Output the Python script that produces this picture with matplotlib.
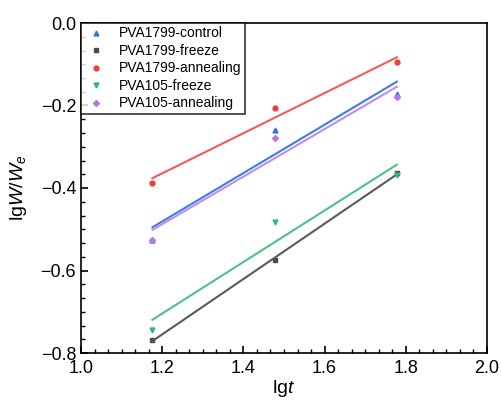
import numpy as np
import matplotlib
matplotlib.use("Agg")
import matplotlib.pyplot as plt
from matplotlib.ticker import MultipleLocator, AutoMinorLocator

plt.rcParams["font.family"] = ["Liberation Sans", "DejaVu Sans"]
plt.rcParams["mathtext.fontset"] = "custom"
plt.rcParams["mathtext.it"] = "Liberation Sans:italic"
plt.rcParams["mathtext.rm"] = "Liberation Sans"

# lg t for 15, 30 and 60 min
lg_t = [1.176, 1.477, 1.778]

series_names = [
    "PVA1799-control",
    "PVA1799-freeze",
    "PVA1799-annealing",
    "PVA105-freeze",
    "PVA105-annealing",
]
pva1799_control = [-0.525, -0.259, -0.172]
pva1799_freeze = [-0.768, -0.575, -0.364]
pva1799_annealing = [-0.388, -0.206, -0.095]
pva105_freeze = [-0.744, -0.482, -0.368]
pva105_annealing = [-0.526, -0.279, -0.179]

series_values = [
    pva1799_control,
    pva1799_freeze,
    pva1799_annealing,
    pva105_freeze,
    pva105_annealing,
]
colors = ["#2f74e0", "#4a4a4a", "#f23c3c", "#2fb872", "#b476ea"]
line_colors = ["#3d7de6", "#5a5a5a", "#f55a5a", "#4cc283", "#bf8cf0"]
markers = ["^", "s", "o", "v", "D"]
sizes = [3.5, 3, 3.5, 3.5, 3]

fig = plt.figure(figsize=(5.01, 4.07), dpi=100)
ax = fig.add_axes([81 / 501, 1 - 353 / 407, 406 / 501, 330 / 407])

x = np.array(lg_t)
for name, ys, c, lc, m, s in zip(series_names, series_values, colors, line_colors, markers, sizes):
    ys = np.array(ys)
    ax.plot(x, ys, linestyle="none", marker=m, color=c, markersize=s, label=name)
    k, b = np.polyfit(x, ys, 1)
    ax.plot(x[[0, -1]], k * x[[0, -1]] + b, color=lc, linewidth=1.5)

ax.set_xlim(1.0, 2.0)
ax.set_ylim(-0.8, 0.0)
ax.xaxis.set_major_locator(MultipleLocator(0.2))
ax.yaxis.set_major_locator(MultipleLocator(0.2))
ax.xaxis.set_minor_locator(AutoMinorLocator(6))
ax.yaxis.set_minor_locator(AutoMinorLocator(6))
ax.tick_params(which="both", direction="in", top=False, right=False, labelsize=13)
ax.tick_params(which="major", length=5, width=1.2)
ax.tick_params(which="minor", length=3, width=1.0)
ax.tick_params(axis="x", pad=5)
for sp in ax.spines.values():
    sp.set_linewidth(1.2)

ax.set_xlabel(r"lg$\it{t}$", fontsize=14, labelpad=1)
ax.set_ylabel(r"lg$\it{W}$/$\it{W_e}$", fontsize=14, labelpad=8)

leg = ax.legend(loc="upper left", fontsize=10, frameon=True, fancybox=False,
                borderaxespad=0.0, handletextpad=0.9, labelspacing=0.25,
                handlelength=1.6, borderpad=0.25)
leg.get_frame().set_edgecolor("black")
leg.get_frame().set_linewidth(1.2)

fig.savefig("out.png", dpi=100)
